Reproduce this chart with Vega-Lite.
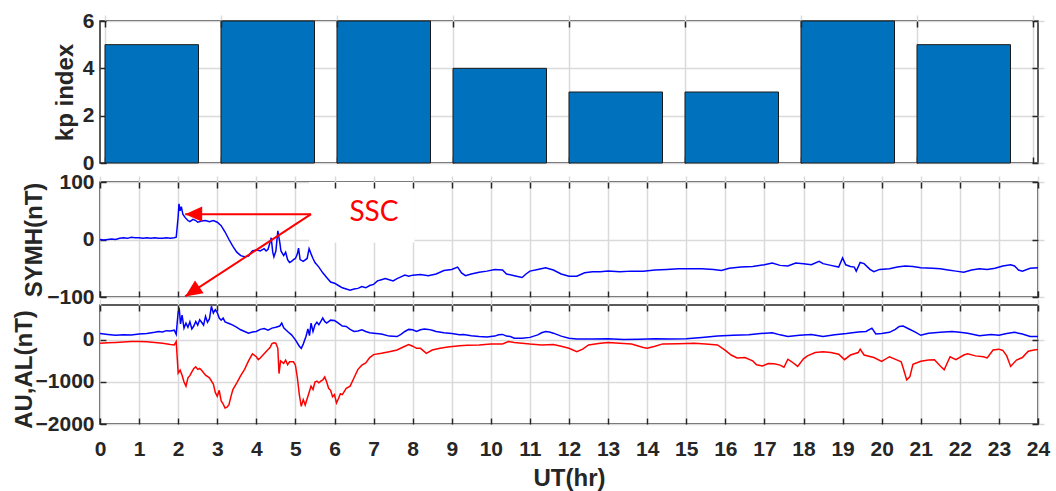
{
  "$schema": "https://vega.github.io/schema/vega-lite/v6.json",
  "padding": {"left": 11, "top": 9, "right": 5, "bottom": 5},
  "background": "white",
  "config": {
    "font": "Liberation Sans",
    "view": {"stroke": "#262626", "strokeWidth": 1.5},
    "axis": {
      "labelFont": "Liberation Sans", "labelFontSize": 21, "labelFontWeight": "bold", "labelColor": "#262626",
      "titleFont": "Liberation Sans", "titleFontSize": 24, "titleFontWeight": "bold", "titleColor": "#262626",
      "domain": false, "tickColor": "#262626", "tickWidth": 1.5, "tickSize": 6, "offset": -6,
      "gridColor": "#dadada", "gridWidth": 1.5, "labelPadding": 6, "format": "d", "labelFlush": false, "labelOverlap": false
    },
    "axisBottom": {"labelPadding": 14}
  },
  "datasets": {
    "kp": [
      {"t": 0, "kp": 5}, {"t": 3, "kp": 6}, {"t": 6, "kp": 6}, {"t": 9, "kp": 4},
      {"t": 12, "kp": 3}, {"t": 15, "kp": 3}, {"t": 18, "kp": 6}, {"t": 21, "kp": 5}
    ],
    "symh": [
      {"t":0,"v":0},{"t":0.1,"v":-1},{"t":0.2,"v":0},{"t":0.3,"v":1},{"t":0.4,"v":0},{"t":0.5,"v":2},{"t":0.6,"v":3},{"t":0.7,"v":2},{"t":0.8,"v":4},{"t":0.9,"v":3},
      {"t":1.0,"v":3},{"t":1.1,"v":2},{"t":1.2,"v":3},{"t":1.3,"v":2},{"t":1.4,"v":3},{"t":1.5,"v":2},{"t":1.6,"v":2},{"t":1.7,"v":3},{"t":1.8,"v":2},{"t":1.9,"v":3},
      {"t":1.95,"v":4},{"t":2.0,"v":40},{"t":2.02,"v":62},{"t":2.05,"v":50},{"t":2.08,"v":57},{"t":2.12,"v":44},{"t":2.18,"v":38},{"t":2.25,"v":33},{"t":2.3,"v":31},{"t":2.38,"v":35},
      {"t":2.45,"v":33},{"t":2.5,"v":30},{"t":2.6,"v":32},{"t":2.7,"v":33},{"t":2.8,"v":31},{"t":2.9,"v":33},{"t":3.0,"v":30},{"t":3.1,"v":24},{"t":3.2,"v":13},{"t":3.3,"v":0},
      {"t":3.4,"v":-12},{"t":3.5,"v":-22},{"t":3.6,"v":-28},{"t":3.7,"v":-30},{"t":3.8,"v":-29},{"t":3.85,"v":-24},{"t":3.9,"v":-20},{"t":4.0,"v":-18},{"t":4.1,"v":-20},{"t":4.2,"v":-16},
      {"t":4.25,"v":-20},{"t":4.3,"v":-17},{"t":4.35,"v":-5},{"t":4.38,"v":3},{"t":4.42,"v":-22},{"t":4.45,"v":-30},{"t":4.5,"v":-20},{"t":4.55,"v":15},{"t":4.6,"v":-5},{"t":4.63,"v":-20},
      {"t":4.7,"v":-28},{"t":4.75,"v":-22},{"t":4.8,"v":-35},{"t":4.85,"v":-40},{"t":4.9,"v":-38},{"t":4.95,"v":-35},{"t":5.0,"v":-33},{"t":5.05,"v":-25},{"t":5.08,"v":-15},{"t":5.12,"v":-35},
      {"t":5.2,"v":-38},{"t":5.3,"v":-33},{"t":5.35,"v":-16},{"t":5.4,"v":-25},{"t":5.45,"v":-33},{"t":5.5,"v":-40},{"t":5.6,"v":-48},{"t":5.7,"v":-58},{"t":5.8,"v":-66},{"t":5.9,"v":-74},
      {"t":6.0,"v":-76},{"t":6.1,"v":-80},{"t":6.2,"v":-84},{"t":6.3,"v":-86},{"t":6.4,"v":-88},{"t":6.5,"v":-86},{"t":6.6,"v":-85},{"t":6.7,"v":-82},{"t":6.8,"v":-84},{"t":6.9,"v":-80},
      {"t":7.0,"v":-78},{"t":7.1,"v":-72},{"t":7.2,"v":-70},{"t":7.3,"v":-68},{"t":7.4,"v":-70},{"t":7.5,"v":-72},{"t":7.6,"v":-68},{"t":7.7,"v":-65},{"t":7.8,"v":-62},{"t":7.9,"v":-64},
      {"t":8.0,"v":-62},{"t":8.2,"v":-61},{"t":8.4,"v":-63},{"t":8.6,"v":-60},{"t":8.8,"v":-54},{"t":9.0,"v":-52},{"t":9.15,"v":-48},{"t":9.25,"v":-58},{"t":9.35,"v":-63},{"t":9.5,"v":-60},
      {"t":9.7,"v":-57},{"t":9.9,"v":-55},{"t":10.1,"v":-52},{"t":10.3,"v":-53},{"t":10.4,"v":-60},{"t":10.6,"v":-63},{"t":10.8,"v":-66},{"t":10.9,"v":-60},{"t":11.0,"v":-55},{"t":11.2,"v":-52},
      {"t":11.4,"v":-49},{"t":11.6,"v":-53},{"t":11.8,"v":-60},{"t":12.0,"v":-64},{"t":12.2,"v":-64},{"t":12.4,"v":-58},{"t":12.6,"v":-56},{"t":12.8,"v":-56},{"t":13.0,"v":-55},{"t":13.3,"v":-56},
      {"t":13.6,"v":-55},{"t":13.9,"v":-55},{"t":14.2,"v":-53},{"t":14.5,"v":-52},{"t":14.8,"v":-51},{"t":15.1,"v":-51},{"t":15.4,"v":-51},{"t":15.7,"v":-52},{"t":15.9,"v":-54},{"t":16.1,"v":-50},
      {"t":16.4,"v":-48},{"t":16.7,"v":-47},{"t":17.0,"v":-44},{"t":17.2,"v":-41},{"t":17.4,"v":-45},{"t":17.6,"v":-46},{"t":17.8,"v":-41},{"t":18.0,"v":-42},{"t":18.2,"v":-44},{"t":18.4,"v":-38},
      {"t":18.5,"v":-42},{"t":18.7,"v":-45},{"t":18.9,"v":-48},{"t":19.0,"v":-32},{"t":19.08,"v":-44},{"t":19.2,"v":-47},{"t":19.3,"v":-48},{"t":19.35,"v":-55},{"t":19.45,"v":-40},{"t":19.55,"v":-42},
      {"t":19.7,"v":-52},{"t":19.8,"v":-56},{"t":19.95,"v":-52},{"t":20.2,"v":-51},{"t":20.4,"v":-48},{"t":20.6,"v":-46},{"t":20.8,"v":-47},{"t":21.0,"v":-49},{"t":21.3,"v":-50},{"t":21.5,"v":-51},
      {"t":21.7,"v":-53},{"t":21.9,"v":-55},{"t":22.1,"v":-57},{"t":22.3,"v":-53},{"t":22.5,"v":-51},{"t":22.7,"v":-52},{"t":22.9,"v":-50},{"t":23.1,"v":-46},{"t":23.3,"v":-44},{"t":23.4,"v":-46},
      {"t":23.5,"v":-53},{"t":23.6,"v":-55},{"t":23.8,"v":-50},{"t":24.0,"v":-49}
    ],
    "aual": [
      {"t":0,"s":"AU","v":150},{"t":0.2,"s":"AU","v":130},{"t":0.4,"s":"AU","v":110},{"t":0.6,"s":"AU","v":120},{"t":0.8,"s":"AU","v":115},{"t":1.0,"s":"AU","v":140},{"t":1.2,"s":"AU","v":150},{"t":1.4,"s":"AU","v":180},{"t":1.5,"s":"AU","v":200},{"t":1.6,"s":"AU","v":190},
      {"t":1.7,"s":"AU","v":220},{"t":1.8,"s":"AU","v":210},{"t":1.9,"s":"AU","v":230},{"t":1.95,"s":"AU","v":130},{"t":2.0,"s":"AU","v":670},{"t":2.03,"s":"AU","v":720},{"t":2.06,"s":"AU","v":380},{"t":2.1,"s":"AU","v":590},{"t":2.15,"s":"AU","v":280},{"t":2.2,"s":"AU","v":400},
      {"t":2.25,"s":"AU","v":300},{"t":2.3,"s":"AU","v":430},{"t":2.35,"s":"AU","v":260},{"t":2.4,"s":"AU","v":330},{"t":2.45,"s":"AU","v":440},{"t":2.5,"s":"AU","v":350},{"t":2.55,"s":"AU","v":480},{"t":2.6,"s":"AU","v":420},{"t":2.65,"s":"AU","v":350},{"t":2.7,"s":"AU","v":560},
      {"t":2.75,"s":"AU","v":420},{"t":2.8,"s":"AU","v":500},{"t":2.85,"s":"AU","v":800},{"t":2.9,"s":"AU","v":640},{"t":2.95,"s":"AU","v":720},{"t":3.0,"s":"AU","v":650},{"t":3.05,"s":"AU","v":520},{"t":3.1,"s":"AU","v":470},{"t":3.15,"s":"AU","v":520},{"t":3.2,"s":"AU","v":430},
      {"t":3.3,"s":"AU","v":390},{"t":3.4,"s":"AU","v":350},{"t":3.5,"s":"AU","v":300},{"t":3.6,"s":"AU","v":240},{"t":3.7,"s":"AU","v":200},{"t":3.8,"s":"AU","v":160},{"t":3.9,"s":"AU","v":190},{"t":4.0,"s":"AU","v":200},{"t":4.1,"s":"AU","v":250},{"t":4.2,"s":"AU","v":270},
      {"t":4.3,"s":"AU","v":230},{"t":4.4,"s":"AU","v":280},{"t":4.5,"s":"AU","v":300},{"t":4.6,"s":"AU","v":330},{"t":4.65,"s":"AU","v":400},{"t":4.7,"s":"AU","v":290},{"t":4.8,"s":"AU","v":200},{"t":4.9,"s":"AU","v":120},{"t":5.0,"s":"AU","v":0},{"t":5.1,"s":"AU","v":-150},
      {"t":5.15,"s":"AU","v":-200},{"t":5.2,"s":"AU","v":-100},{"t":5.27,"s":"AU","v":80},{"t":5.32,"s":"AU","v":260},{"t":5.36,"s":"AU","v":100},{"t":5.4,"s":"AU","v":400},{"t":5.45,"s":"AU","v":200},{"t":5.5,"s":"AU","v":360},{"t":5.55,"s":"AU","v":420},{"t":5.6,"s":"AU","v":360},
      {"t":5.7,"s":"AU","v":520},{"t":5.75,"s":"AU","v":440},{"t":5.8,"s":"AU","v":400},{"t":5.9,"s":"AU","v":470},{"t":6.0,"s":"AU","v":460},{"t":6.1,"s":"AU","v":400},{"t":6.2,"s":"AU","v":330},{"t":6.3,"s":"AU","v":320},{"t":6.4,"s":"AU","v":250},{"t":6.5,"s":"AU","v":200},
      {"t":6.6,"s":"AU","v":210},{"t":6.7,"s":"AU","v":240},{"t":6.8,"s":"AU","v":200},{"t":6.9,"s":"AU","v":170},{"t":7.0,"s":"AU","v":160},{"t":7.2,"s":"AU","v":140},{"t":7.4,"s":"AU","v":90},{"t":7.6,"s":"AU","v":80},{"t":7.7,"s":"AU","v":130},{"t":7.8,"s":"AU","v":200},
      {"t":7.9,"s":"AU","v":250},{"t":8.0,"s":"AU","v":240},{"t":8.1,"s":"AU","v":200},{"t":8.2,"s":"AU","v":240},{"t":8.3,"s":"AU","v":260},{"t":8.4,"s":"AU","v":250},{"t":8.5,"s":"AU","v":230},{"t":8.6,"s":"AU","v":200},{"t":8.8,"s":"AU","v":170},{"t":9.0,"s":"AU","v":150},
      {"t":9.2,"s":"AU","v":120},{"t":9.3,"s":"AU","v":130},{"t":9.5,"s":"AU","v":100},{"t":9.7,"s":"AU","v":80},{"t":9.9,"s":"AU","v":70},{"t":10.1,"s":"AU","v":90},{"t":10.2,"s":"AU","v":120},{"t":10.3,"s":"AU","v":130},{"t":10.4,"s":"AU","v":90},{"t":10.5,"s":"AU","v":80},
      {"t":10.6,"s":"AU","v":40},{"t":10.8,"s":"AU","v":40},{"t":11.0,"s":"AU","v":60},{"t":11.2,"s":"AU","v":120},{"t":11.3,"s":"AU","v":170},{"t":11.4,"s":"AU","v":200},{"t":11.5,"s":"AU","v":190},{"t":11.6,"s":"AU","v":160},{"t":11.8,"s":"AU","v":90},{"t":12.0,"s":"AU","v":40},
      {"t":12.2,"s":"AU","v":20},{"t":12.6,"s":"AU","v":20},{"t":13.0,"s":"AU","v":30},{"t":13.4,"s":"AU","v":10},{"t":13.8,"s":"AU","v":15},{"t":14.2,"s":"AU","v":25},{"t":14.6,"s":"AU","v":20},{"t":15.0,"s":"AU","v":30},{"t":15.4,"s":"AU","v":60},{"t":15.8,"s":"AU","v":90},
      {"t":16.2,"s":"AU","v":110},{"t":16.6,"s":"AU","v":120},{"t":16.9,"s":"AU","v":150},{"t":17.2,"s":"AU","v":170},{"t":17.4,"s":"AU","v":120},{"t":17.6,"s":"AU","v":80},{"t":17.9,"s":"AU","v":110},{"t":18.2,"s":"AU","v":130},{"t":18.5,"s":"AU","v":80},{"t":18.8,"s":"AU","v":120},
      {"t":19.1,"s":"AU","v":150},{"t":19.4,"s":"AU","v":190},{"t":19.6,"s":"AU","v":200},{"t":19.75,"s":"AU","v":280},{"t":19.85,"s":"AU","v":140},{"t":20.0,"s":"AU","v":150},{"t":20.2,"s":"AU","v":180},{"t":20.35,"s":"AU","v":250},{"t":20.45,"s":"AU","v":320},{"t":20.55,"s":"AU","v":330},
      {"t":20.7,"s":"AU","v":260},{"t":20.85,"s":"AU","v":190},{"t":21.0,"s":"AU","v":110},{"t":21.2,"s":"AU","v":160},{"t":21.5,"s":"AU","v":180},{"t":21.8,"s":"AU","v":200},{"t":22.0,"s":"AU","v":180},{"t":22.2,"s":"AU","v":160},{"t":22.5,"s":"AU","v":100},{"t":22.8,"s":"AU","v":130},
      {"t":23.0,"s":"AU","v":110},{"t":23.2,"s":"AU","v":150},{"t":23.4,"s":"AU","v":180},{"t":23.6,"s":"AU","v":140},{"t":23.8,"s":"AU","v":80},{"t":24.0,"s":"AU","v":80},
      {"t":0,"s":"AL","v":-80},{"t":0.2,"s":"AL","v":-70},{"t":0.4,"s":"AL","v":-60},{"t":0.6,"s":"AL","v":-50},{"t":0.8,"s":"AL","v":-40},{"t":1.0,"s":"AL","v":-40},{"t":1.2,"s":"AL","v":-45},{"t":1.4,"s":"AL","v":-60},{"t":1.6,"s":"AL","v":-80},{"t":1.8,"s":"AL","v":-110},
      {"t":1.9,"s":"AL","v":-120},{"t":1.95,"s":"AL","v":-40},{"t":2.0,"s":"AL","v":-790},{"t":2.05,"s":"AL","v":-720},{"t":2.1,"s":"AL","v":-840},{"t":2.15,"s":"AL","v":-1000},{"t":2.2,"s":"AL","v":-1100},{"t":2.25,"s":"AL","v":-900},{"t":2.3,"s":"AL","v":-850},{"t":2.35,"s":"AL","v":-760},
      {"t":2.4,"s":"AL","v":-680},{"t":2.45,"s":"AL","v":-640},{"t":2.5,"s":"AL","v":-700},{"t":2.55,"s":"AL","v":-680},{"t":2.6,"s":"AL","v":-720},{"t":2.7,"s":"AL","v":-840},{"t":2.8,"s":"AL","v":-900},{"t":2.9,"s":"AL","v":-1050},{"t":2.95,"s":"AL","v":-1250},{"t":3.0,"s":"AL","v":-1340},
      {"t":3.05,"s":"AL","v":-1200},{"t":3.1,"s":"AL","v":-1450},{"t":3.15,"s":"AL","v":-1520},{"t":3.2,"s":"AL","v":-1620},{"t":3.25,"s":"AL","v":-1600},{"t":3.3,"s":"AL","v":-1540},{"t":3.35,"s":"AL","v":-1350},{"t":3.4,"s":"AL","v":-1180},{"t":3.5,"s":"AL","v":-1020},{"t":3.6,"s":"AL","v":-850},
      {"t":3.7,"s":"AL","v":-700},{"t":3.8,"s":"AL","v":-500},{"t":3.9,"s":"AL","v":-330},{"t":4.0,"s":"AL","v":-400},{"t":4.05,"s":"AL","v":-470},{"t":4.1,"s":"AL","v":-430},{"t":4.2,"s":"AL","v":-330},{"t":4.3,"s":"AL","v":-230},{"t":4.35,"s":"AL","v":-180},{"t":4.4,"s":"AL","v":-90},
      {"t":4.45,"s":"AL","v":-70},{"t":4.5,"s":"AL","v":-80},{"t":4.55,"s":"AL","v":-200},{"t":4.58,"s":"AL","v":-800},{"t":4.62,"s":"AL","v":-500},{"t":4.7,"s":"AL","v":-560},{"t":4.75,"s":"AL","v":-480},{"t":4.8,"s":"AL","v":-590},{"t":4.85,"s":"AL","v":-520},{"t":4.95,"s":"AL","v":-520},
      {"t":5.0,"s":"AL","v":-600},{"t":5.05,"s":"AL","v":-900},{"t":5.1,"s":"AL","v":-1300},{"t":5.15,"s":"AL","v":-1580},{"t":5.2,"s":"AL","v":-1420},{"t":5.25,"s":"AL","v":-1550},{"t":5.3,"s":"AL","v":-1400},{"t":5.35,"s":"AL","v":-1250},{"t":5.4,"s":"AL","v":-1100},{"t":5.45,"s":"AL","v":-1180},
      {"t":5.5,"s":"AL","v":-1000},{"t":5.55,"s":"AL","v":-980},{"t":5.6,"s":"AL","v":-1020},{"t":5.65,"s":"AL","v":-980},{"t":5.7,"s":"AL","v":-950},{"t":5.75,"s":"AL","v":-880},{"t":5.8,"s":"AL","v":-1000},{"t":5.85,"s":"AL","v":-1150},{"t":5.9,"s":"AL","v":-1200},{"t":5.95,"s":"AL","v":-1350},
      {"t":6.0,"s":"AL","v":-1300},{"t":6.05,"s":"AL","v":-1500},{"t":6.1,"s":"AL","v":-1400},{"t":6.15,"s":"AL","v":-1280},{"t":6.2,"s":"AL","v":-1300},{"t":6.3,"s":"AL","v":-1150},{"t":6.4,"s":"AL","v":-1100},{"t":6.5,"s":"AL","v":-900},{"t":6.6,"s":"AL","v":-700},{"t":6.7,"s":"AL","v":-600},
      {"t":6.8,"s":"AL","v":-550},{"t":6.9,"s":"AL","v":-420},{"t":7.0,"s":"AL","v":-350},{"t":7.2,"s":"AL","v":-320},{"t":7.4,"s":"AL","v":-280},{"t":7.6,"s":"AL","v":-240},{"t":7.8,"s":"AL","v":-150},{"t":7.9,"s":"AL","v":-110},{"t":8.0,"s":"AL","v":-150},{"t":8.1,"s":"AL","v":-200},
      {"t":8.2,"s":"AL","v":-200},{"t":8.35,"s":"AL","v":-320},{"t":8.5,"s":"AL","v":-240},{"t":8.7,"s":"AL","v":-200},{"t":8.9,"s":"AL","v":-170},{"t":9.2,"s":"AL","v":-140},{"t":9.4,"s":"AL","v":-130},{"t":9.7,"s":"AL","v":-120},{"t":10.0,"s":"AL","v":-100},{"t":10.3,"s":"AL","v":-95},
      {"t":10.45,"s":"AL","v":-40},{"t":10.6,"s":"AL","v":-60},{"t":10.8,"s":"AL","v":-80},{"t":11.0,"s":"AL","v":-100},{"t":11.3,"s":"AL","v":-120},{"t":11.6,"s":"AL","v":-110},{"t":11.8,"s":"AL","v":-150},{"t":12.0,"s":"AL","v":-200},{"t":12.2,"s":"AL","v":-280},{"t":12.35,"s":"AL","v":-220},
      {"t":12.5,"s":"AL","v":-120},{"t":12.8,"s":"AL","v":-80},{"t":13.0,"s":"AL","v":-60},{"t":13.3,"s":"AL","v":-80},{"t":13.6,"s":"AL","v":-100},{"t":13.9,"s":"AL","v":-180},{"t":14.0,"s":"AL","v":-200},{"t":14.2,"s":"AL","v":-150},{"t":14.4,"s":"AL","v":-95},{"t":14.8,"s":"AL","v":-90},
      {"t":15.2,"s":"AL","v":-80},{"t":15.5,"s":"AL","v":-100},{"t":15.8,"s":"AL","v":-120},{"t":16.0,"s":"AL","v":-250},{"t":16.15,"s":"AL","v":-360},{"t":16.3,"s":"AL","v":-430},{"t":16.5,"s":"AL","v":-420},{"t":16.7,"s":"AL","v":-500},{"t":16.8,"s":"AL","v":-590},{"t":16.95,"s":"AL","v":-620},
      {"t":17.1,"s":"AL","v":-560},{"t":17.25,"s":"AL","v":-570},{"t":17.4,"s":"AL","v":-600},{"t":17.5,"s":"AL","v":-650},{"t":17.6,"s":"AL","v":-460},{"t":17.7,"s":"AL","v":-520},{"t":17.85,"s":"AL","v":-630},{"t":18.0,"s":"AL","v":-450},{"t":18.1,"s":"AL","v":-380},{"t":18.3,"s":"AL","v":-300},
      {"t":18.5,"s":"AL","v":-280},{"t":18.7,"s":"AL","v":-300},{"t":18.9,"s":"AL","v":-340},{"t":19.05,"s":"AL","v":-470},{"t":19.2,"s":"AL","v":-360},{"t":19.4,"s":"AL","v":-300},{"t":19.45,"s":"AL","v":-220},{"t":19.55,"s":"AL","v":-360},{"t":19.8,"s":"AL","v":-420},{"t":20.0,"s":"AL","v":-510},
      {"t":20.2,"s":"AL","v":-400},{"t":20.4,"s":"AL","v":-480},{"t":20.5,"s":"AL","v":-520},{"t":20.56,"s":"AL","v":-700},{"t":20.64,"s":"AL","v":-950},{"t":20.72,"s":"AL","v":-880},{"t":20.8,"s":"AL","v":-580},{"t":21.0,"s":"AL","v":-510},{"t":21.2,"s":"AL","v":-480},{"t":21.35,"s":"AL","v":-470},
      {"t":21.5,"s":"AL","v":-620},{"t":21.6,"s":"AL","v":-710},{"t":21.75,"s":"AL","v":-400},{"t":21.9,"s":"AL","v":-470},{"t":22.1,"s":"AL","v":-360},{"t":22.2,"s":"AL","v":-330},{"t":22.4,"s":"AL","v":-380},{"t":22.6,"s":"AL","v":-400},{"t":22.7,"s":"AL","v":-430},{"t":22.85,"s":"AL","v":-240},
      {"t":23.0,"s":"AL","v":-220},{"t":23.1,"s":"AL","v":-250},{"t":23.2,"s":"AL","v":-380},{"t":23.3,"s":"AL","v":-630},{"t":23.45,"s":"AL","v":-480},{"t":23.6,"s":"AL","v":-420},{"t":23.75,"s":"AL","v":-270},{"t":23.9,"s":"AL","v":-240},{"t":24.0,"s":"AL","v":-230}
    ],
    "box": [{"x1": 5.35, "x2": 8.05, "y1": -5, "y2": 100}],
    "arrows": [
      {"head": "left", "x": 5.4, "y": 44, "x2": 2.18, "y2": 44},
      {"head": "diag", "x": 5.4, "y": 44, "x2": 2.18, "y2": -99}
    ],
    "label": [{"x": 7.01, "y": 46, "text": "SSC"}]
  },
  "spacing": 19,
  "bounds": "flush",
  "vconcat": [
    {
      "width": 938, "height": 142,
      "data": {"name": "kp"},
      "layer": [
        {
          "mark": {"type": "bar", "color": "#0072BD", "stroke": "#1a1a1a", "strokeWidth": 1, "width": 93.5, "xOffset": 46.75},
          "encoding": {
            "x": {"field": "t", "type": "quantitative", "scale": {"domain": [0, 24], "nice": false},
                  "axis": {"orient": "bottom", "values": [0,3,6,9,12,15,18,21,24], "labels": false, "title": null, "grid": true}},
            "y": {"field": "kp", "type": "quantitative", "stack": null, "scale": {"domain": [0, 6], "nice": false},
                  "axis": {"orient": "left", "values": [0,2,4,6], "title": "kp index", "titleX": -29, "grid": true}}
          }
        },
        {
          "mark": {"type": "point", "opacity": 0},
          "encoding": {
            "x": {"field": "t", "type": "quantitative", "scale": {"domain": [0, 24], "nice": false},
                  "axis": {"orient": "top", "values": [0,3,6,9,12,15,18,21,24], "labels": false, "title": null, "grid": false, "zindex": 1}},
            "y": {"field": "kp", "type": "quantitative", "scale": {"domain": [0, 6], "nice": false},
                  "axis": {"orient": "right", "values": [0,2,4,6], "labels": false, "title": null, "grid": false, "zindex": 1}}
          }
        }
      ],
      "resolve": {"axis": {"x": "independent", "y": "independent"}}
    },
    {
      "spacing": 8,
      "bounds": "flush",
      "vconcat": [
        {
          "width": 938, "height": 115,
          "layer": [
            {
              "data": {"name": "box"},
              "mark": {"type": "rect", "color": "white"},
              "encoding": {
                "x": {"field": "x1", "type": "quantitative", "scale": {"domain": [0, 24], "nice": false}, "axis": null},
                "x2": {"field": "x2"},
                "y": {"field": "y1", "type": "quantitative", "scale": {"domain": [-100, 100], "nice": false}, "axis": null},
                "y2": {"field": "y2"}
              }
            },
            {
              "data": {"name": "symh"},
              "mark": {"type": "line", "color": "#0000FF", "strokeWidth": 1.5},
              "encoding": {
                "x": {"field": "t", "type": "quantitative", "scale": {"domain": [0, 24], "nice": false},
                      "axis": {"orient": "bottom", "values": [0,1,2,3,4,5,6,7,8,9,10,11,12,13,14,15,16,17,18,19,20,21,22,23,24], "labels": false, "title": null, "grid": true}},
                "y": {"field": "v", "type": "quantitative", "scale": {"domain": [-100, 100], "nice": false},
                      "axis": {"orient": "left", "values": [-100, 0, 100], "title": "SYMH(nT)", "titleX": -60, "grid": true}}
              }
            },
            {
              "data": {"name": "arrows"},
              "mark": {"type": "rule", "color": "#FF0000", "strokeWidth": 2},
              "encoding": {
                "x": {"field": "x", "type": "quantitative", "scale": {"domain": [0, 24], "nice": false}, "axis": null},
                "y": {"field": "y", "type": "quantitative", "scale": {"domain": [-100, 100], "nice": false}, "axis": null},
                "x2": {"field": "x2"},
                "y2": {"field": "y2"}
              }
            },
            {
              "data": {"name": "arrows"},
              "transform": [{"filter": "datum.head === 'left'"}],
              "mark": {"type": "point", "shape": "M0,0L-0.45,1L0.45,1Z", "size": 1156, "filled": true, "color": "#FF0000", "opacity": 1, "strokeWidth": 0, "angle": 270},
              "encoding": {
                "x": {"field": "x2", "type": "quantitative", "scale": {"domain": [0, 24], "nice": false}, "axis": null},
                "y": {"field": "y2", "type": "quantitative", "scale": {"domain": [-100, 100], "nice": false}, "axis": null}
              }
            },
            {
              "data": {"name": "arrows"},
              "transform": [{"filter": "datum.head === 'diag'"}],
              "mark": {"type": "point", "shape": "M0,0L-0.45,1L0.45,1Z", "size": 1156, "filled": true, "color": "#FF0000", "opacity": 1, "strokeWidth": 0, "angle": 236},
              "encoding": {
                "x": {"field": "x2", "type": "quantitative", "scale": {"domain": [0, 24], "nice": false}, "axis": null},
                "y": {"field": "y2", "type": "quantitative", "scale": {"domain": [-100, 100], "nice": false}, "axis": null}
              }
            },
            {
              "data": {"name": "label"},
              "mark": {"type": "text", "color": "#FF0000", "font": "Lato", "fontSize": 28, "align": "center", "baseline": "middle"},
              "encoding": {
                "x": {"field": "x", "type": "quantitative", "scale": {"domain": [0, 24], "nice": false}, "axis": null},
                "y": {"field": "y", "type": "quantitative", "scale": {"domain": [-100, 100], "nice": false}, "axis": null},
                "text": {"field": "text"}
              }
            },
            {
              "data": {"name": "symh"},
              "mark": {"type": "point", "opacity": 0},
              "encoding": {
                "x": {"field": "t", "type": "quantitative", "scale": {"domain": [0, 24], "nice": false},
                      "axis": {"orient": "top", "values": [0,1,2,3,4,5,6,7,8,9,10,11,12,13,14,15,16,17,18,19,20,21,22,23,24], "labels": false, "title": null, "grid": false, "zindex": 1}},
                "y": {"field": "v", "type": "quantitative", "scale": {"domain": [-100, 100], "nice": false},
                      "axis": {"orient": "right", "values": [-100, 0, 100], "labels": false, "title": null, "grid": false, "zindex": 1}}
              }
            }
          ],
          "resolve": {"axis": {"x": "independent", "y": "independent"}}
        },
        {
          "width": 938, "height": 119,
          "data": {"name": "aual"},
          "layer": [
            {
              "mark": {"type": "line", "strokeWidth": 1.5, "clip": true},
              "encoding": {
                "x": {"field": "t", "type": "quantitative", "scale": {"domain": [0, 24], "nice": false},
                      "axis": {"orient": "bottom", "values": [0,1,2,3,4,5,6,7,8,9,10,11,12,13,14,15,16,17,18,19,20,21,22,23,24], "title": "UT(hr)", "titleY": 48, "titleBaseline": "top", "grid": true}},
                "y": {"field": "v", "type": "quantitative", "scale": {"domain": [-2000, 830], "nice": false},
                      "axis": {"orient": "left", "values": [-2000, -1000, 0], "title": "AU,AL(nT)", "titleX": -70, "titleY": 64, "grid": true}},
                "color": {"field": "s", "type": "nominal", "scale": {"domain": ["AU", "AL"], "range": ["#0000FF", "#FF0000"]}, "legend": null}
              }
            },
            {
              "mark": {"type": "point", "opacity": 0},
              "encoding": {
                "x": {"field": "t", "type": "quantitative", "scale": {"domain": [0, 24], "nice": false},
                      "axis": {"orient": "top", "values": [0,1,2,3,4,5,6,7,8,9,10,11,12,13,14,15,16,17,18,19,20,21,22,23,24], "labels": false, "title": null, "grid": false, "zindex": 1}},
                "y": {"field": "v", "type": "quantitative", "scale": {"domain": [-2000, 830], "nice": false},
                      "axis": {"orient": "right", "values": [-2000, -1000, 0], "labels": false, "title": null, "grid": false, "zindex": 1}}
              }
            }
          ],
          "resolve": {"axis": {"x": "independent", "y": "independent"}}
        }
      ]
    }
  ]
}
